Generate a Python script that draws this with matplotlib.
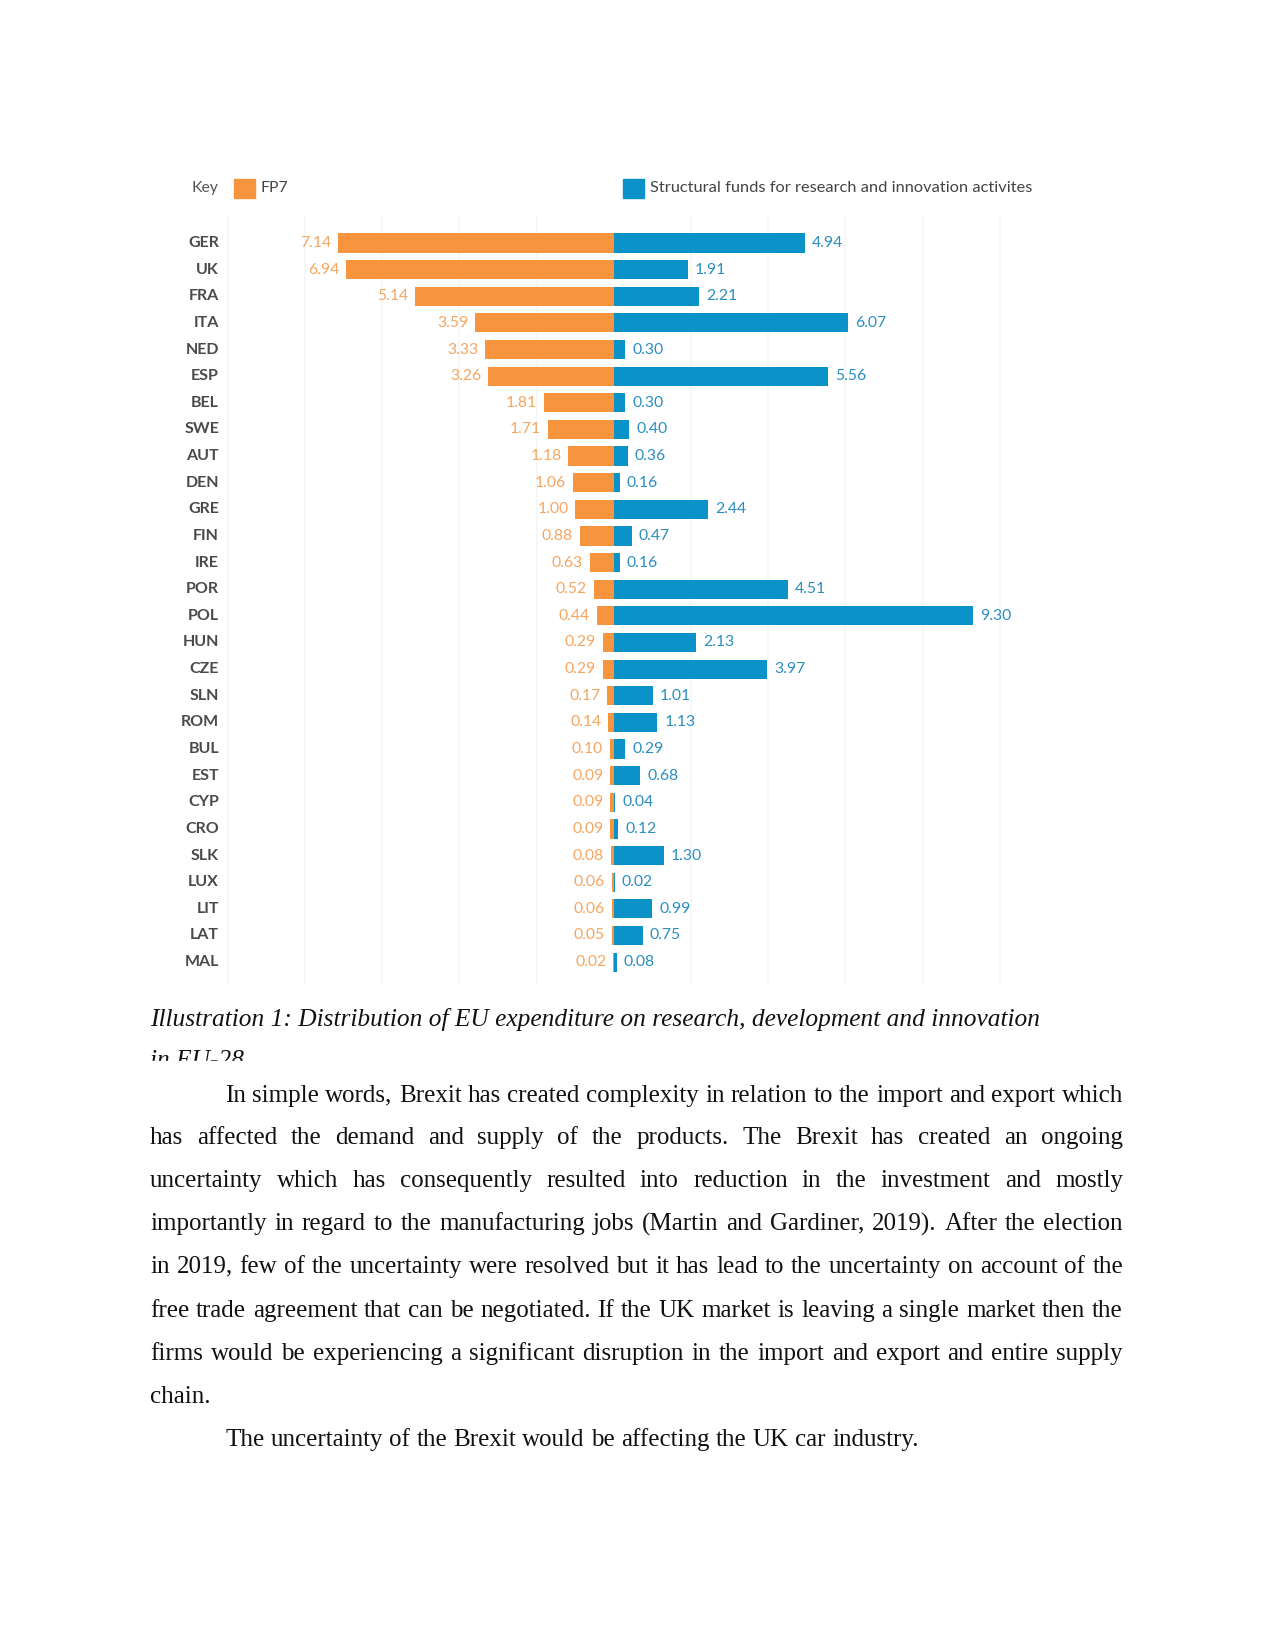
import math
import matplotlib
matplotlib.use("Agg")
import matplotlib.pyplot as plt
from matplotlib.patches import Rectangle
from matplotlib.transforms import blended_transform_factory
from matplotlib.font_manager import FontProperties
from matplotlib.backends.backend_agg import get_hinting_flag

# data
countries = ["GER", "UK", "FRA", "ITA", "NED", "ESP", "BEL", "SWE", "AUT", "DEN",
             "GRE", "FIN", "IRE", "POR", "POL", "HUN", "CZE", "SLN", "ROM", "BUL",
             "EST", "CYP", "CRO", "SLK", "LUX", "LIT", "LAT", "MAL"]
fp7 = [7.14, 6.94, 5.14, 3.59, 3.33, 3.26, 1.81, 1.71, 1.18, 1.06,
       1.00, 0.88, 0.63, 0.52, 0.44, 0.29, 0.29, 0.17, 0.14, 0.10,
       0.09, 0.09, 0.09, 0.08, 0.06, 0.06, 0.05, 0.02]
structural = [4.94, 1.91, 2.21, 6.07, 0.30, 5.56, 0.30, 0.40, 0.36, 0.16,
              2.44, 0.47, 0.16, 4.51, 9.30, 2.13, 3.97, 1.01, 1.13, 0.29,
              0.68, 0.04, 0.12, 1.30, 0.02, 0.99, 0.75, 0.08]

caption = ["Illustration 1: Distribution of EU expenditure on research, development and innovation",
           "in EU-28"]
body = [
    "In simple words, Brexit has created complexity in relation to the import and export which",
    "has affected the demand and supply of the products. The Brexit has created an ongoing",
    "uncertainty which has consequently resulted into reduction in the investment and mostly",
    "importantly in regard to the manufacturing jobs (Martin and Gardiner, 2019). After the election",
    "in 2019, few of the uncertainty were resolved but it has lead to the uncertainty on account of the",
    "free trade agreement that can be negotiated. If the UK market is leaving a single market then the",
    "firms would be experiencing a significant disruption in the import and export and entire supply",
    "chain.",
    "The uncertainty of the Brexit would be affecting the UK car industry.",
]

ORANGE = "#F7953F"
BLUE = "#0A92C9"
W, H = 1275, 1651

fig = plt.figure(figsize=(W / 100, H / 100), dpi=100)


def fx(x):
    return x / W


def fy(y):
    return 1 - y / H


# chart axes
ax = fig.add_axes([fx(180), fy(985), (1040 - 180) / W, (985 - 215) / H])
ax.set_xlim(-11.24, 11.04)
ax.set_ylim(27.86, -1.05)
ax.axis("off")

for g in range(-10, 11, 2):
    if g != 0:
        ax.axvline(g, color="#f6f6f6", lw=1.2, zorder=0)

rows = list(range(len(countries)))
ax.barh(rows, [-v for v in fp7], height=0.72, color=ORANGE, zorder=2)
ax.barh(rows, structural, height=0.72, color=BLUE, zorder=2)

lab = dict(fontsize=11.3, family="Lato")
trans = blended_transform_factory(fig.transFigure, ax.transData)
for i in rows:
    ax.text(-fp7[i] - 0.18, i, "%.2f" % fp7[i], ha="right", va="center",
            color="#F5A661", **lab)
    ax.text(structural[i] + 0.18, i, "%.2f" % structural[i], ha="left", va="center",
            color="#2A8FC0", **lab)
    ax.text(fx(219), i, countries[i], transform=trans, ha="right", va="center",
            color="#4a4a4a", fontweight="bold", fontsize=11.5, family="Lato")

# legend row
fig.text(fx(192), fy(188), "Key", ha="left", va="center", color="#555555", **lab)
fig.add_artist(Rectangle((fx(234), fy(198)), 21 / W, 19 / H, color=ORANGE, transform=fig.transFigure))
fig.text(fx(260), fy(188), "FP7", ha="left", va="center", color="#444444", **lab)
fig.add_artist(Rectangle((fx(623), fy(198)), 21 / W, 19 / H, color=BLUE, transform=fig.transFigure))
fig.text(fx(650), fy(188), "Structural funds for research and innovation activites", ha="left",
         va="center", color="#444444", fontsize=11.8, family="Lato")

# caption
fig.text(fx(150), fy(1026), caption[0], ha="left", va="baseline", fontsize=18.3,
         family="Liberation Serif", style="italic", color="#111111")
fig.text(fx(150), fy(1067), caption[1], ha="left", va="baseline", fontsize=18.3,
         family="Liberation Serif", style="italic", color="#111111")
fig.add_artist(Rectangle((0, fy(1075)), 1, 14 / H, color="white", transform=fig.transFigure, zorder=5))

# body text: one text per word so the lines can be justified
renderer = fig.canvas.get_renderer()
fs = 18
serif = "Liberation Serif"
ft = renderer._prepare_font(FontProperties(family=serif, size=fs))


def tw(s):
    t = fig.text(0, 0, s, fontsize=fs, family=serif)
    w = t.get_window_extent(renderer).width
    t.remove()
    return w


def base_shift(s):
    # agg rounds each word's bitmap on its own; undo that so baselines line up
    ft.set_text(s, 0, flags=get_hinting_flag())
    d = ft.get_descent() / 64
    a = ft.get_width_height()[1] / 64 - d
    return round(d) - math.floor(a + d) + math.floor(a)


space = tw("a a") - tw("aa")
left, right, indent = 150, 1123, 225
ys = [1102, 1144, 1187, 1230, 1273, 1317, 1360, 1403, 1446]
indented = {0, 8}
justified = {0, 1, 2, 3, 4, 5, 6}
for k, line in enumerate(body):
    x0 = indent if k in indented else left
    words = line.split()
    widths = [tw(w) for w in words]
    if k in justified:
        gap = (right - x0 - sum(widths)) / (len(words) - 1)
    else:
        gap = space
    x = x0
    for w, wd in zip(words, widths):
        fig.text(fx(x), fy(ys[k] - base_shift(w)), w, ha="left", va="baseline",
                 fontsize=fs, family=serif, color="#111111")
        x += wd + gap

fig.savefig("out.png", dpi=100, facecolor="white")
